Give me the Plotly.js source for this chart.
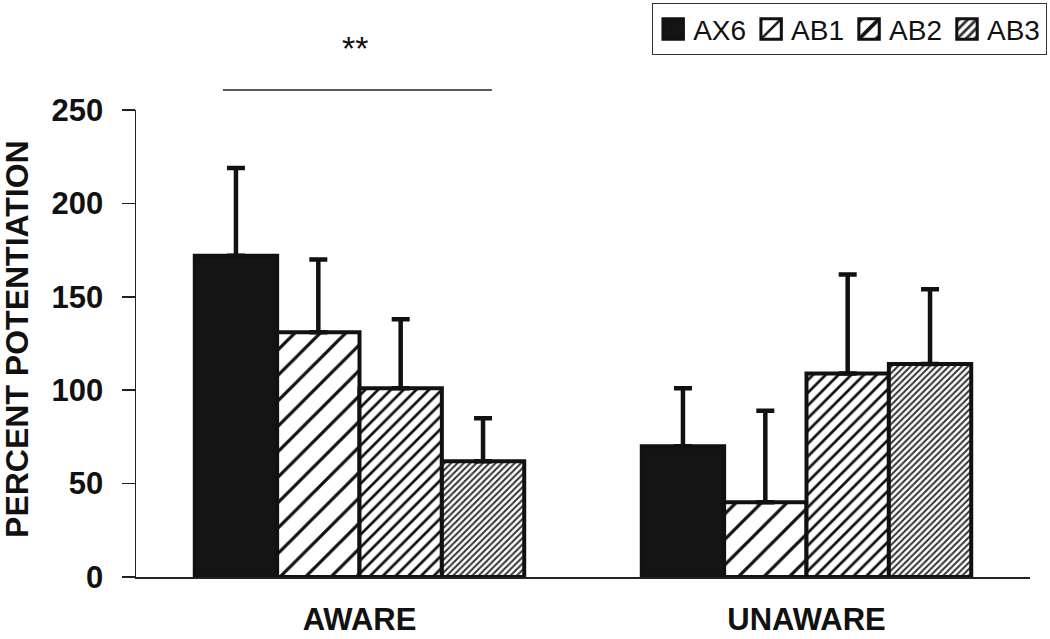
<!DOCTYPE html>
<html>
<head>
<meta charset="utf-8">
<script src="https://cdn.plot.ly/plotly-3.0.1.min.js"></script>
<style>html,body{margin:0;padding:0;background:#fff;}#chart{width:1050px;height:639px;}</style>
</head>
<body>
<div id="chart"></div>
<script>
var groups = ["AWARE", "UNAWARE"];
var seriesNames = ["AX6", "AB1", "AB2", "AB3"];
var ax6 = [172, 70];
var ab1 = [131, 40];
var ab2 = [101, 109];
var ab3 = [62, 114];
var ax6Err = [47, 31];
var ab1Err = [39, 49];
var ab2Err = [37, 53];
var ab3Err = [23, 40];
var yTicks = [0, 50, 100, 150, 200, 250];
var yTitle = "PERCENT POTENTIATION";

var values = [ax6, ab1, ab2, ab3];
var errs = [ax6Err, ab1Err, ab2Err, ab3Err];
var patterns = [
  {shape: ""},
  {shape: "/", size: 18, solidity: 0.18, fgcolor: "#111", bgcolor: "#fff", fillmode: "replace"},
  {shape: "/", size: 9, solidity: 0.3, fgcolor: "#111", bgcolor: "#fff", fillmode: "replace"},
  {shape: "/", size: 4.5, solidity: 0.45, fgcolor: "#333", bgcolor: "#fff", fillmode: "replace"}
];
var fills = ["#141414", "#fff", "#fff", "#fff"];

var traces = seriesNames.map(function(n, i){
  return {
    type: "bar",
    name: n,
    x: groups,
    y: values[i],
    cliponaxis: false,
    marker: {color: fills[i], line: {color: "#111", width: 4}, pattern: patterns[i]},
    error_y: {type: "data", array: errs[i], arrayminus: errs[i].map(function(){return 0;}), symmetric: false,
              color: "#111", thickness: 4.5, width: 9}
  };
});

var FONT = "Liberation Sans, Arial, sans-serif";
var layout = {
  width: 1050, height: 639,
  margin: {l: 136, r: 20, t: 110, b: 62, autoexpand: false},
  paper_bgcolor: "#fff", plot_bgcolor: "#fff",
  font: {family: FONT, color: "#111"},
  barmode: "group", bargap: 0.263, bargroupgap: 0,
  showlegend: true,
  legend: {orientation: "h", x: 1.019, xanchor: "right", y: 1.229, yanchor: "top",
           bordercolor: "#333", borderwidth: 1.2, bgcolor: "#fff",
           font: {size: 28, color: "#111"}, itemwidth: 30, traceorder: "normal"},
  xaxis: {range: [-0.5, 1.5], showline: true, linecolor: "#222", linewidth: 1.5,
          ticks: "", showgrid: false, zeroline: false, fixedrange: true,
          ticklabelstandoff: 14,
          tickfont: {size: 31, family: FONT, weight: "bold", color: "#111"}},
  yaxis: {range: [0, 250], tickvals: yTicks, ticktext: yTicks.map(String),
          showline: true, linecolor: "#222", linewidth: 1.5,
          ticks: "outside", ticklen: 13, tickwidth: 1.5, tickcolor: "#222",
          ticklabelstandoff: 12,
          showgrid: false, zeroline: false,
          tickfont: {size: 31, family: FONT, weight: "bold", color: "#111"}},
  shapes: [
    {type: "line", xref: "paper", yref: "paper", x0: 0.0973, x1: 0.398, y0: 1.043, y1: 1.043,
     line: {color: "#222", width: 1.5}}
  ],
  annotations: [
    {xref: "paper", yref: "paper", x: 0.245, y: 1.133, text: "**", showarrow: false,
     font: {size: 34, color: "#111"}, xanchor: "center", yanchor: "middle"},
    {xref: "paper", yref: "paper", x: -0.133, y: 0.51, text: yTitle, textangle: -90, showarrow: false,
     xanchor: "center", yanchor: "middle",
     font: {size: 32, family: FONT, weight: "bold", color: "#111"}}
  ]
};

Plotly.newPlot("chart", traces, layout, {displayModeBar: false, staticPlot: true}).then(function(gd){
  var pts = gd.querySelectorAll(".legend .legendpoints path");
  pts.forEach(function(p){
    var t = p.getAttribute("transform") || "";
    p.setAttribute("transform", t + " scale(1.7)");
    p.style.strokeWidth = "1.8px";
  });
});
</script>
</body>
</html>
